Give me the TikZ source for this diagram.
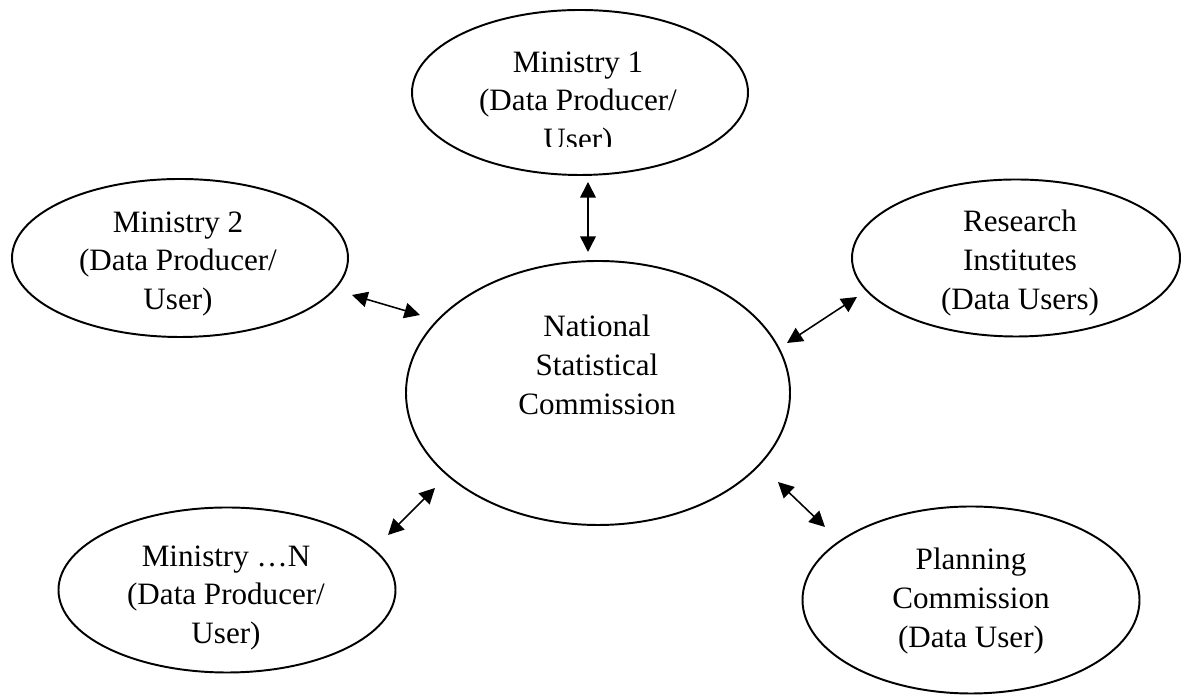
\documentclass[tikz,border=0pt]{standalone}
\usepackage{fontspec}
\setmainfont{Liberation Serif}
\usepackage{tikz}
\usetikzlibrary{shapes.geometric,arrows.meta}
\newcommand{\pxu}{0.3859pt}

\begin{document}
\begin{tikzpicture}[x=\pxu, y=-\pxu,
    ell/.style 2 args={ellipse, draw, line width=0.75pt, inner sep=0pt,
        minimum width=#1*\pxu, minimum height=#2*\pxu},
    lbl/.style={align=center, inner sep=0pt, font=\fontsize{12}{15}\selectfont},
    arr/.style={{Triangle[length=6pt,width=6pt]}-{Triangle[length=6pt,width=6pt]}, line width=0.6pt}
]
    \useasboundingbox (0,0) rectangle (1181,695);

    % ellipses
    \node[ell={336}{165}] (m1) at (580,92.5) {};
    \node[ell={336}{158}] (m2) at (180,258) {};
    \node[ell={328}{157}] (ri) at (1016,258) {};
    \node[ell={384}{264}] (nsc) at (598,393) {};
    \node[ell={337}{165}] (mn) at (227,590) {};
    \node[ell={337}{187}] (pc) at (971,600) {};

    % texts
    \begin{scope}
        \clip (400,0) rectangle (760,147);
        \node[lbl] (m1-t) at (578,104) {Ministry 1\\(Data Producer/\\User)};
    \end{scope}
    \node[lbl] (m2-t) at (178,264) {Ministry 2\\(Data Producer/\\User)};
    \node[lbl] (ri-t) at (1020,263) {Research\\Institutes\\(Data Users)};
    \node[lbl] (nsc-t) at (597,365) {National\\Statistical\\Commission};
    \node[lbl] (mn-t) at (226,598) {Ministry \ldots N\\(Data Producer/\\User)};
    \node[lbl] (pc-t) at (971,601) {Planning\\Commission\\(Data User)};

    % arrow ends
    \coordinate (m1-a) at (588,182);  \coordinate (nsc-a1) at (588,252);
    \coordinate (m2-a) at (352,295);  \coordinate (nsc-a2) at (420,315);
    \coordinate (ri-a) at (857,297);  \coordinate (nsc-a3) at (787,343);
    \coordinate (mn-a) at (388,535);  \coordinate (nsc-a4) at (435,488);
    \coordinate (pc-a) at (825,527);  \coordinate (nsc-a5) at (778,482);

    \draw[arr] (m1-a) -- (nsc-a1);
    \draw[arr] (m2-a) -- (nsc-a2);
    \draw[arr] (ri-a) -- (nsc-a3);
    \draw[arr] (mn-a) -- (nsc-a4);
    \draw[arr] (pc-a) -- (nsc-a5);
\end{tikzpicture}
\end{document}
